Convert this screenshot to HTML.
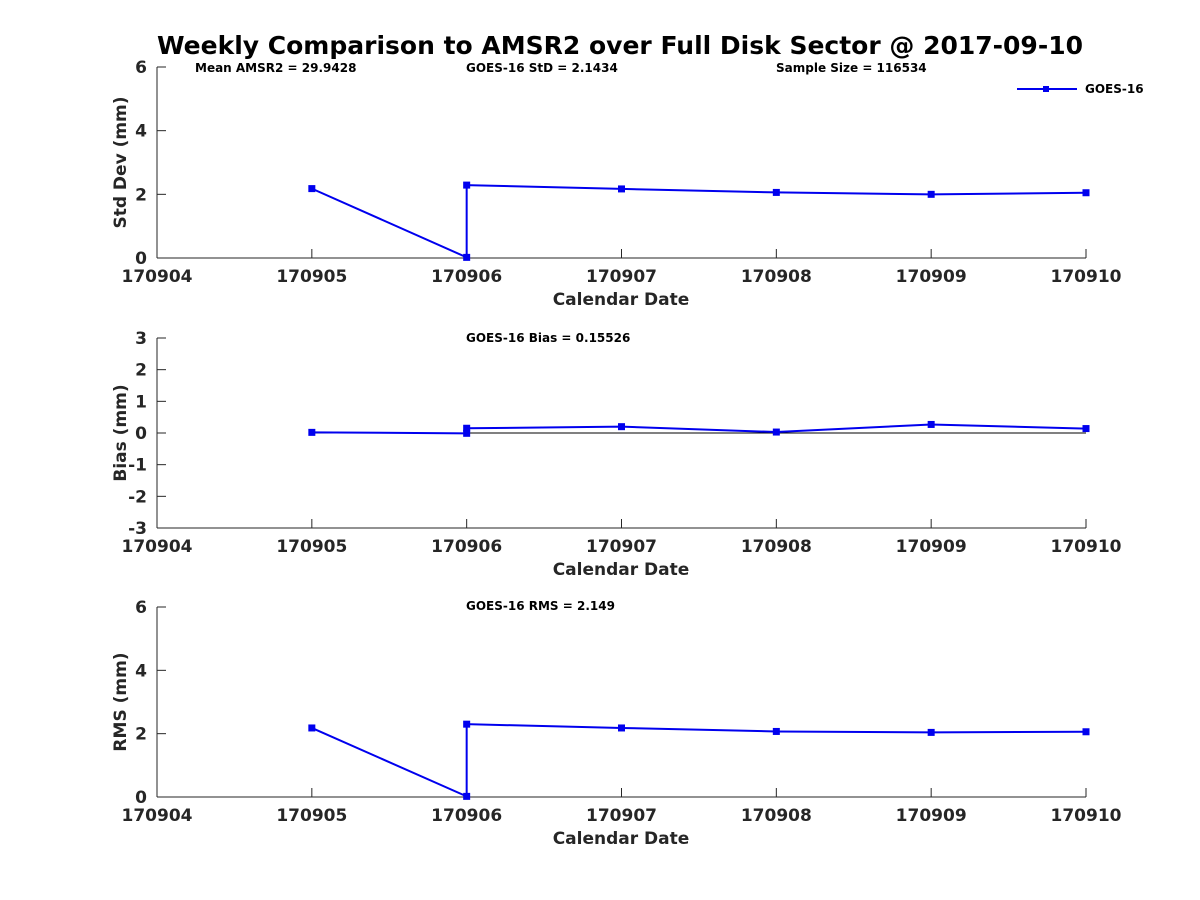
<!DOCTYPE html>
<html><head><meta charset="utf-8"><style>
body{margin:0;background:#fff;}
svg{display:block;font-family:"DejaVu Sans","Liberation Sans",sans-serif;font-weight:bold;}
</style></head><body>
<svg id="chart" width="1200" height="900" xmlns="http://www.w3.org/2000/svg">
<rect width="1200" height="900" fill="#fff"/>
<text x="620" y="54" text-anchor="middle" font-size="25" fill="#000">Weekly Comparison to AMSR2 over Full Disk Sector @ 2017-09-10</text>
<text x="195" y="72" font-size="12">Mean AMSR2 = 29.9428</text>
<text x="466" y="72" font-size="12">GOES-16 StD = 2.1434</text>
<text x="776" y="72" font-size="12">Sample Size = 116534</text>
<text x="466" y="342" font-size="12">GOES-16 Bias  = 0.15526</text>
<text x="466" y="610" font-size="12">GOES-16 RMS = 2.149</text>
<g>
<line x1="1017" y1="89" x2="1077" y2="89" stroke="#0000ee" stroke-width="2"/>
<rect x="1043" y="86" width="6" height="6" fill="#0000ee"/>
<text x="1085" y="93" font-size="12">GOES-16</text>
</g>
<g id="plots"></g>
</svg>
<script>
const xTickLabels = ['170904','170905','170906','170907','170908','170909','170910'];
const xDays = [1, 2, 2, 3, 4, 5, 6];
const stdValues = [2.18, 0.02, 2.29, 2.17, 2.06, 2.0, 2.05];
const biasValues = [0.02, -0.01, 0.15, 0.2, 0.03, 0.27, 0.14];
const rmsValues = [2.18, 0.02, 2.3, 2.18, 2.07, 2.04, 2.06];
const stdTicks = [0, 2, 4, 6];
const biasTicks = [-3, -2, -1, 0, 1, 2, 3];
const rmsTicks = [0, 2, 4, 6];

const NS = 'http://www.w3.org/2000/svg';
const g = document.getElementById('plots');
const L = 157, R = 1086;
function xs(d){ return L + (R - L) * d / 6; }
function mk(tag, attrs, parent){ const e = document.createElementNS(NS, tag); for (const k in attrs) e.setAttribute(k, attrs[k]); (parent||g).appendChild(e); return e; }

const panels = [
  {name:'std', top:67, bot:258, vals:stdValues, ticks:stdTicks, ylabel:'Std Dev (mm)', zero:false},
  {name:'bias', top:338, bot:528, vals:biasValues, ticks:biasTicks, ylabel:'Bias (mm)', zero:true},
  {name:'rms', top:607, bot:797, vals:rmsValues, ticks:rmsTicks, ylabel:'RMS (mm)', zero:false}
];
panels.forEach(p => {
  const pg = mk('g', {});
  
  
  const ymin = p.ticks[0], ymax = p.ticks[p.ticks.length-1];
  const ys = v => p.bot - (v - ymin) / (ymax - ymin) * (p.bot - p.top);
  mk('line', {x1:L, y1:p.top, x2:L, y2:p.bot, stroke:'#262626', 'stroke-width':1}, pg);
  mk('line', {x1:L, y1:p.bot, x2:R, y2:p.bot, stroke:'#262626', 'stroke-width':1}, pg);
  p.ticks.forEach(t => {
    const y = ys(t);
    mk('line', {x1:L, y1:y, x2:L+9, y2:y, stroke:'#262626'}, pg);
    const tx = mk('text', {x:L-10, y:y+6, 'text-anchor':'end', 'font-size':17, fill:'#262626'}, pg);
    tx.textContent = t;
  });
  xTickLabels.forEach((lab, i) => {
    const x = xs(i);
    mk('line', {x1:x, y1:p.bot, x2:x, y2:p.bot-9, stroke:'#262626'}, pg);
    const tx = mk('text', {x:x, y:p.bot+24, 'text-anchor':'middle', 'font-size':17, fill:'#262626'}, pg);
    tx.textContent = lab;
  });
  const xl = mk('text', {x:621, y:p.bot+47, 'text-anchor':'middle', 'font-size':17, fill:'#262626'}, pg);
  xl.textContent = 'Calendar Date';
  const cy = (p.top + p.bot) / 2;
  const yl = mk('text', {x:0, y:0, transform:`translate(126,${cy}) rotate(-90)`, 'text-anchor':'middle', 'font-size':17, fill:'#262626'}, pg);
  yl.textContent = p.ylabel;
  if (p.zero) mk('line', {x1:xs(1), y1:ys(0), x2:R, y2:ys(0), stroke:'#000', 'stroke-width':1}, pg);
  const pts = p.vals.map((v, i) => xs(xDays[i]) + ',' + ys(v)).join(' ');
  const line = mk('polyline', {points:pts, fill:'none', stroke:'#0000ee', 'stroke-width':2}, pg);
  
  
  p.vals.forEach((v, i) => {
    const m = mk('rect', {x:xs(xDays[i])-3.5, y:ys(v)-3.5, width:7, height:7, fill:'#0000ee'}, pg);
    
    
  });
});
</script>
</body></html>
